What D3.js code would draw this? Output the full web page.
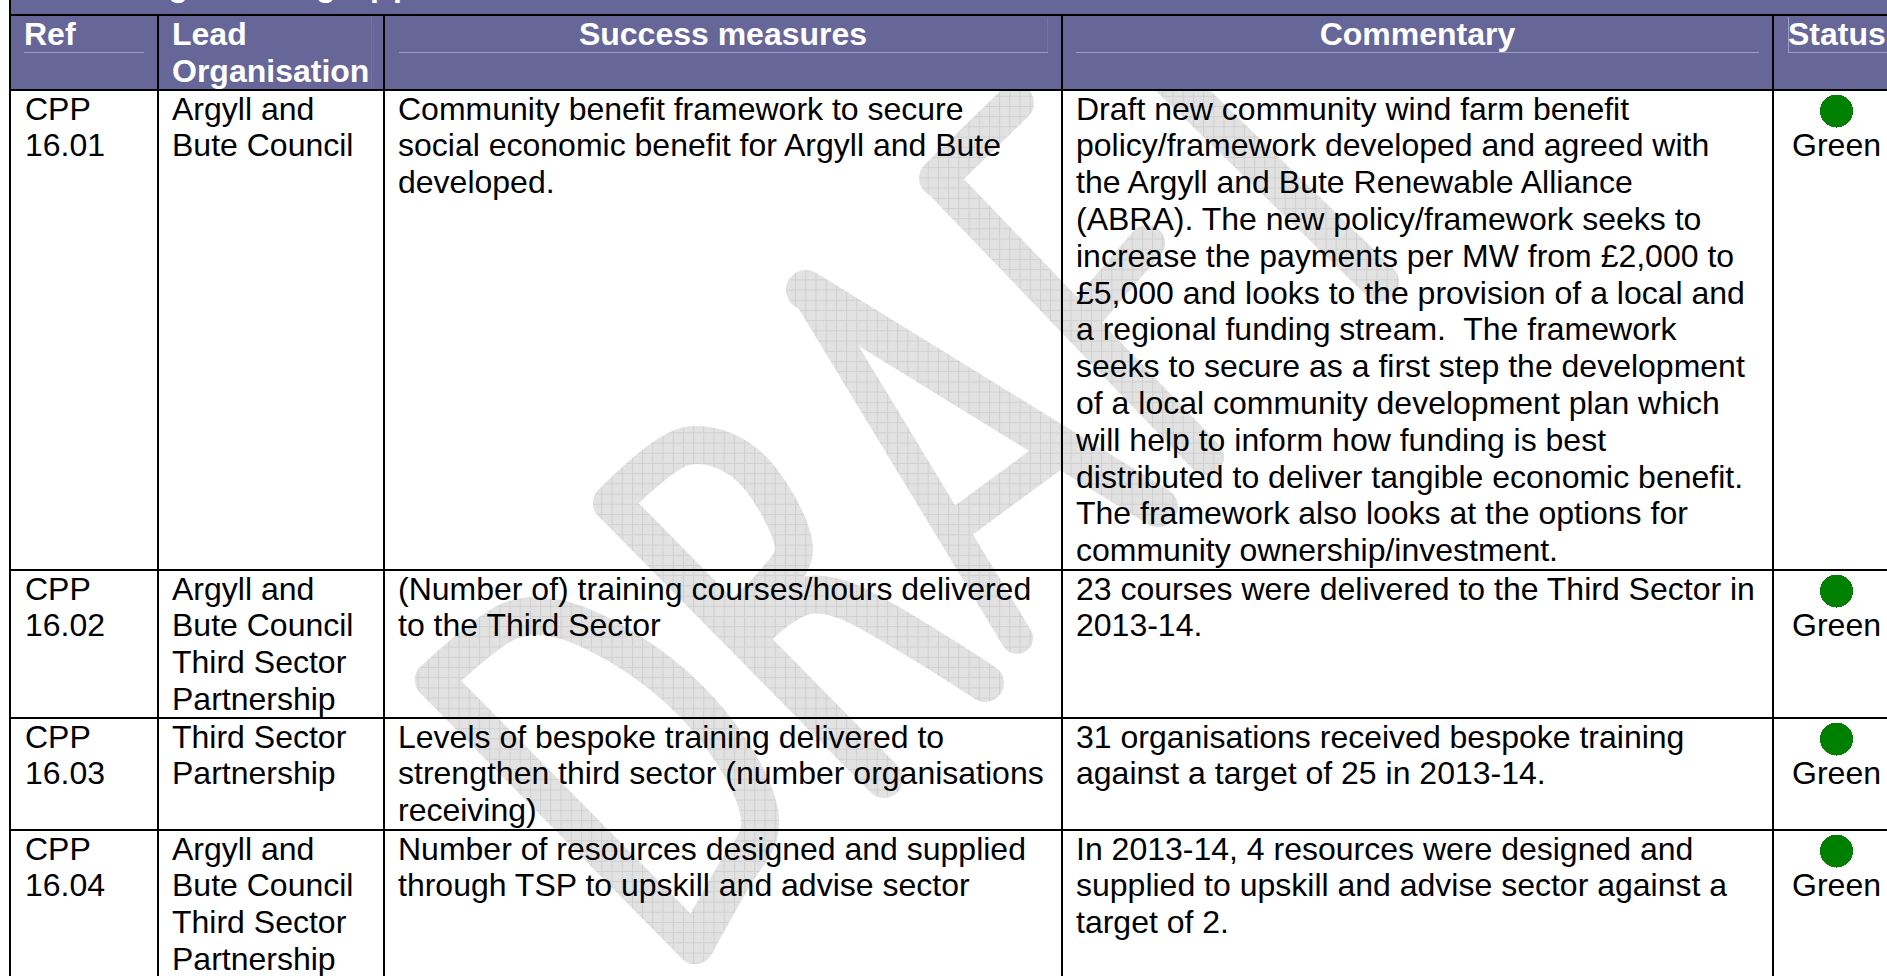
<!DOCTYPE html>
<html lang="en">
<head>
<meta charset="utf-8">
<title>CPP success measures</title>
<script src="https://d3js.org/d3.v7.min.js"></script>
<style type="text/css">
	html, body { margin: 0; padding: 0; background: #fff; overflow: hidden; }
	text { font-family: "Liberation Sans", Arial, sans-serif; font-size: 32px; fill: #000; white-space: pre; }
	.head text, text.head { font-weight: bold; fill: #fff; }
</style>
</head>
<body>
<script type="text/javascript">
// table content, one entry per printed line
var refs = [["CPP", "16.01"], ["CPP", "16.02"], ["CPP", "16.03"], ["CPP", "16.04"]];
var leads = [
	["Argyll and", "Bute Council"],
	["Argyll and", "Bute Council", "Third Sector", "Partnership"],
	["Third Sector", "Partnership"],
	["Argyll and", "Bute Council", "Third Sector", "Partnership"]
];
var measures = [
	["Community benefit framework to secure", "social economic benefit for Argyll and Bute", "developed."],
	["(Number of) training courses/hours delivered", "to the Third Sector"],
	["Levels of bespoke training delivered to", "strengthen third sector (number organisations", "receiving)"],
	["Number of resources designed and supplied", "through TSP to upskill and advise sector"]
];
var comments = [
	["Draft new community wind farm benefit", "policy/framework developed and agreed with", "the Argyll and Bute Renewable Alliance",
	 "(ABRA). The new policy/framework seeks to", "increase the payments per MW from £2,000 to", "£5,000 and looks to the provision of a local and",
	 "a regional funding stream.  The framework", "seeks to secure as a first step the development", "of a local community development plan which",
	 "will help to inform how funding is best", "distributed to deliver tangible economic benefit.", "The framework also looks at the options for",
	 "community ownership/investment."],
	["23 courses were delivered to the Third Sector in", "2013-14."],
	["31 organisations received bespoke training", "against a target of 25 in 2013-14."],
	["In 2013-14, 4 resources were designed and", "supplied to upskill and advise sector against a", "target of 2."]
];
var statuses = ["Green", "Green", "Green", "Green"];
var rowLines = [13, 4, 3, 4];
var headers = [["Ref"], ["Lead", "Organisation"], ["Success measures"], ["Commentary"], ["Status"]];
var titleBits = ["g", "g", "p", "p"];

var w = 1887, h = 976;

var svg = d3.select("body").append("svg")
	.attr("width", w)
	.attr("height", h)
	.style("display", "block");

// x scale: column edges, y scale: printed line number (0 = top of first row)
var x = d3.scaleOrdinal().domain([0, 1, 2, 3, 4, 5]).range([10, 158, 384, 1062, 1773, 1900]);
var y = d3.scaleLinear().domain([-2, 0, 13, 17, 20, 24]).range([15, 90, 570, 718, 830, 978]);
var textX = [25, 172, 398, 1076];
var lineH = 36.8, firstBase = 29.5;

var rowStart = d3.cumsum(rowLines).map(function(d, i) { return d - rowLines[i]; });

// watermark pattern
var defs = svg.append("defs");
var pat = defs.append("pattern").attr("id", "wm")
	.attr("patternUnits", "userSpaceOnUse")
	.attr("x", -0.5).attr("y", 4)
	.attr("width", 10.2).attr("height", 10.2);
pat.append("rect").attr("width", 10.2).attr("height", 10.2).attr("fill", "#e2e2e2");
pat.append("path").attr("d", "M0 0.5H10.2M0.5 0V10.2").attr("stroke", "#d0d0d0").attr("fill", "none");

// DRAFT watermark, hand traced: [width, curved?, points]
var wmStrokes = [
	// D
	[38, false, [[434, 680], [695, 945]]],
	[38, true, [[434, 680], [512, 620], [559, 619], [639, 658], [710, 722], [755, 797], [759, 833], [733, 877], [695, 945]]],
	// R
	[38, false, [[612, 503], [884, 779]]],
	[38, true, [[612, 503], [687, 446], [745, 463], [794, 550], [774, 583], [739, 617]]],
	[38, true, [[755, 630], [782, 607], [809, 595], [844, 600], [985, 683]]],
	// A
	[32, false, [[806, 290], [1017, 638]]],
	[40, false, [[806, 290], [1158, 507]]],
	[34, false, [[964, 520], [1055, 453]]],
	// F
	[36, false, [[938, 178], [1206, 457]]],
	[38, false, [[938, 178], [1015, 103]]],
	[36, false, [[1078, 323], [1147, 243]]],
	// T
	[38, false, [[1100, 10], [1380, 282]]],
	[30, false, [[1040, 75], [1160, -40]]]
];
var lineStraight = d3.line();
var lineCurved = d3.line().curve(d3.curveCatmullRom.alpha(0.5));

var wm = svg.append("g").attr("class", "watermark");
wm.append("title").text("DRAFT");
wm.selectAll("path")
	.data(wmStrokes)
	.enter()
	.append("path")
	.attr("d", function(d) { return d[1] ? lineCurved(d[2]) : lineStraight(d[2]); })
	.attr("fill", "none")
	.attr("stroke", "url(#wm)")
	.attr("stroke-width", function(d) { return d[0]; })
	.attr("stroke-linecap", "round")
	.attr("stroke-linejoin", "round");

// header band
var head = svg.append("g").attr("class", "head");
head.append("rect")
	.attr("x", x(0)).attr("y", 0)
	.attr("width", w - x(0)).attr("height", y(0))
	.attr("fill", "#666699");

// clipped title row above the header, only descenders show
var titleX = [168.5, 316, 370, 393];
head.selectAll("text.title")
	.data(titleBits)
	.enter()
	.append("text")
	.attr("class", "title")
	.attr("x", function(d, i) { return titleX[i]; })
	.attr("y", -4)
	.text(function(d) { return d; });

// faint rules left inside the header cells
var ruleCol = "#9c9cbf";
var headRules = [[24, 144], [399, 1048], [1076, 1759], [1788, 1887]];
head.selectAll("line.rule")
	.data(headRules)
	.enter()
	.append("line")
	.attr("class", "rule")
	.attr("x1", function(d) { return d[0]; })
	.attr("x2", function(d) { return d[1]; })
	.attr("y1", 52.5).attr("y2", 52.5)
	.attr("stroke", ruleCol);
head.append("line").attr("x1", 1788.5).attr("x2", 1788.5).attr("y1", 17).attr("y2", 52).attr("stroke", ruleCol);
head.append("line").attr("x1", 371.5).attr("x2", 371.5).attr("y1", 17).attr("y2", 89).attr("stroke", "#7272a2");
head.append("line").attr("x1", 1047.5).attr("x2", 1047.5).attr("y1", 17).attr("y2", 52).attr("stroke", "#7272a2");

var headX = [24, 172, (x(2) + x(3)) / 2, (x(3) + x(4)) / 2, 1788];
var headAnchor = ["start", "start", "middle", "middle", "start"];
headers.forEach(function(lines, c) {
	head.selectAll("text.h" + c)
		.data(lines)
		.enter()
		.append("text")
		.attr("class", "h" + c)
		.attr("x", headX[c])
		.attr("y", function(d, i) { return y(-2) + 30 + i * lineH; })
		.attr("text-anchor", headAnchor[c])
		.text(function(d) { return d; });
});

// body cell text
[refs, leads, measures, comments].forEach(function(col, c) {
	col.forEach(function(lines, r) {
		svg.selectAll("text.c" + c + "r" + r)
			.data(lines)
			.enter()
			.append("text")
			.attr("class", "c" + c + "r" + r)
			.attr("x", textX[c])
			.attr("y", function(d, i) { return y(rowStart[r]) + firstBase + i * lineH; })
			.text(function(d) { return d; });
	});
});

// status column
var statusX = 1836.5;
svg.selectAll("circle.status")
	.data(statuses)
	.enter()
	.append("circle")
	.attr("class", "status")
	.attr("cx", statusX)
	.attr("cy", function(d, i) { return y(rowStart[i]) + 21; })
	.attr("r", 16.5)
	.attr("fill", "#008000")
	.attr("shape-rendering", "crispEdges");
svg.selectAll("text.statusLabel")
	.data(statuses)
	.enter()
	.append("text")
	.attr("class", "statusLabel")
	.attr("x", statusX)
	.attr("y", function(d, i) { return y(rowStart[i]) + firstBase + lineH; })
	.attr("text-anchor", "middle")
	.text(function(d) { return d; });

// grid lines
var hLines = [y(-2), y(0)].concat(rowLines.slice(0, 3).map(function(d, i) { return y(rowStart[i + 1]); }));
svg.selectAll("line.h")
	.data(hLines)
	.enter()
	.append("line")
	.attr("class", "h")
	.attr("x1", x(0) - 1).attr("x2", w)
	.attr("y1", function(d) { return d; })
	.attr("y2", function(d) { return d; })
	.attr("stroke", "#000")
	.attr("stroke-width", 2);

var vLines = [
	[x(0), 0], [x(1), y(-2)], [x(2), y(-2)], [x(3), y(-2)], [x(4), y(-2)]
];
svg.selectAll("line.v")
	.data(vLines)
	.enter()
	.append("line")
	.attr("class", "v")
	.attr("x1", function(d) { return d[0]; })
	.attr("x2", function(d) { return d[0]; })
	.attr("y1", function(d) { return d[1]; })
	.attr("y2", h)
	.attr("stroke", "#000")
	.attr("stroke-width", 2);
</script>
</body>
</html>
